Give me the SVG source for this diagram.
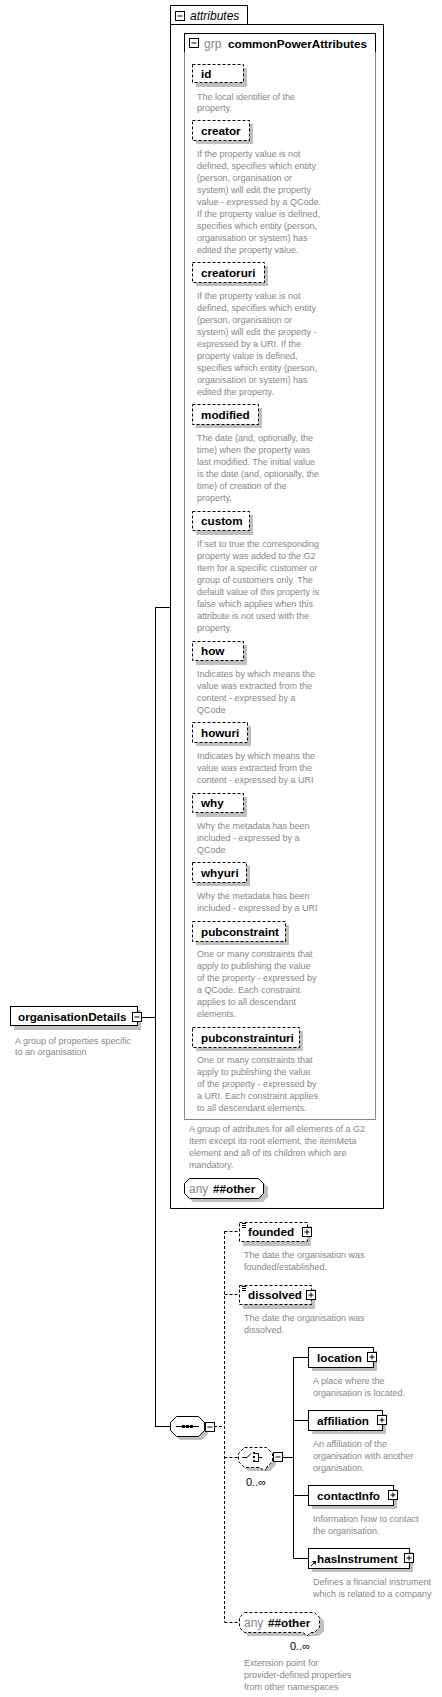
<svg xmlns="http://www.w3.org/2000/svg" width="442" height="1697" viewBox="0 0 442 1697">
<style>
.bg{fill:#fff}
.box{fill:#fff;stroke:#000;stroke-width:1}
.dbox{fill:#fff;stroke:#000;stroke-width:1;stroke-dasharray:3,2}
.sh{fill:#c0c0c0}
.lbl{font-family:"Liberation Sans",Arial,sans-serif;font-size:11.7px;font-weight:bold;fill:#000}
.desc{font-family:"Liberation Sans",Arial,sans-serif;font-size:9px;fill:#888}
.gr{font-family:"Liberation Sans",Arial,sans-serif;font-size:12px;fill:#888}
.occ{font-family:"Liberation Sans",Arial,sans-serif;font-size:11px;fill:#000}
.ital{font-family:"Liberation Sans",Arial,sans-serif;font-size:12px;font-style:italic;fill:#000}
.ln{stroke:#000;stroke-width:1;fill:none}
.dl{stroke:#000;stroke-width:1;fill:none;stroke-dasharray:3,2}
.ic{fill:#fff;stroke:#000;stroke-width:1}
</style>
<defs>
<g id="minus"><rect class="ic" x="0.5" y="0.5" width="9" height="9"/><path class="ln" d="M2.5,5H7.5"/></g>
<g id="plus"><rect class="ic" x="0.5" y="0.5" width="9" height="9"/><path class="ln" d="M2.5,5H7.5M5,2.5V7.5"/></g>
</defs>
<rect class="bg" x="0" y="0" width="442" height="1697"/>

<g id="connectors">
<path class="ln" d="M142,1017.5H155.5M155.5,607V1427M155.5,607.5H170M155.5,1426.5H170"/>
<path class="dl" d="M214,1426.5H224.5M224.5,1231V1622M224.5,1231.5H239M224.5,1294.5H239M224.5,1457.5H238M224.5,1622.5H239"/>
<path class="ln" d="M283,1457.5H293.5M293.5,1357V1558M293.5,1357.5H308M293.5,1420.5H308M293.5,1495.5H308M293.5,1558.5H308"/>
</g>

<g id="attributes">
<path class="ln" d="M170.5,24.5V1208.5H383.5V24.5H247.5V5.5H170.5V24.5H247.5"/>
<use href="#minus" x="175" y="11"/>
<text class="ital" x="190" y="20">attributes</text>
</g>

<g id="commonPowerAttributes">
<rect x="184.5" y="33.5" width="191" height="1086" fill="#fff" stroke="#888"/>
<path class="ln" d="M184.5,52V33.5H375.5V52"/>
<use href="#minus" x="189" y="38"/>
<text class="gr" x="204" y="48">grp</text>
<text class="lbl" x="228" y="48">commonPowerAttributes</text>
<text class="desc" x="189" y="1132">A group of attributes for all elements of a G2</text>
<text class="desc" x="189" y="1144">Item except its root element, the itemMeta</text>
<text class="desc" x="189" y="1156">element and all of its children which are</text>
<text class="desc" x="189" y="1168">mandatory.</text>
</g>

<g id="attr-id">
<rect class="sh" x="196" y="68" width="51" height="19"/>
<rect class="dbox" x="192.5" y="64.5" width="51" height="18"/>
<text class="lbl" x="201" y="78">id</text>
<text class="desc" x="197" y="100">The local identifier of the</text>
<text class="desc" x="197" y="111">property.</text>
</g>

<g id="attr-creator">
<rect class="sh" x="196" y="124" width="57" height="20"/>
<rect class="dbox" x="192.5" y="120.5" width="57" height="20"/>
<text class="lbl" x="201" y="135">creator</text>
<text class="desc" x="197" y="157">If the property value is not</text>
<text class="desc" x="197" y="169">defined, specifies which entity</text>
<text class="desc" x="197" y="181">(person, organisation or</text>
<text class="desc" x="197" y="193">system) will edit the property</text>
<text class="desc" x="197" y="205">value - expressed by a QCode.</text>
<text class="desc" x="197" y="217">If the property value is defined,</text>
<text class="desc" x="197" y="229">specifies which entity (person,</text>
<text class="desc" x="197" y="241">organisation or system) has</text>
<text class="desc" x="197" y="253">edited the property value.</text>
</g>

<g id="attr-creatoruri">
<rect class="sh" x="196" y="266" width="72" height="20"/>
<rect class="dbox" x="192.5" y="262.5" width="72" height="20"/>
<text class="lbl" x="201" y="277">creatoruri</text>
<text class="desc" x="197" y="299">If the property value is not</text>
<text class="desc" x="197" y="311">defined, specifies which entity</text>
<text class="desc" x="197" y="323">(person, organisation or</text>
<text class="desc" x="197" y="335">system) will edit the property -</text>
<text class="desc" x="197" y="347">expressed by a URI. If the</text>
<text class="desc" x="197" y="359">property value is defined,</text>
<text class="desc" x="197" y="371">specifies which entity (person,</text>
<text class="desc" x="197" y="383">organisation or system) has</text>
<text class="desc" x="197" y="395">edited the property.</text>
</g>

<g id="attr-modified">
<rect class="sh" x="196" y="408" width="66" height="20"/>
<rect class="dbox" x="192.5" y="404.5" width="66" height="20"/>
<text class="lbl" x="201" y="419">modified</text>
<text class="desc" x="197" y="441">The date (and, optionally, the</text>
<text class="desc" x="197" y="453">time) when the property was</text>
<text class="desc" x="197" y="465">last modified. The initial value</text>
<text class="desc" x="197" y="477">is the date (and, optionally, the</text>
<text class="desc" x="197" y="489">time) of creation of the</text>
<text class="desc" x="197" y="501">property.</text>
</g>

<g id="attr-custom">
<rect class="sh" x="196" y="515" width="57" height="20"/>
<rect class="dbox" x="192.5" y="511.5" width="57" height="19"/>
<text class="lbl" x="201" y="525">custom</text>
<text class="desc" x="197" y="547">If set to true the corresponding</text>
<text class="desc" x="197" y="559">property was added to the G2</text>
<text class="desc" x="197" y="571">Item for a specific customer or</text>
<text class="desc" x="197" y="583">group of customers only. The</text>
<text class="desc" x="197" y="595">default value of this property is</text>
<text class="desc" x="197" y="607">false which applies when this</text>
<text class="desc" x="197" y="619">attribute is not used with the</text>
<text class="desc" x="197" y="631">property.</text>
</g>

<g id="attr-how">
<rect class="sh" x="196" y="645" width="51" height="20"/>
<rect class="dbox" x="192.5" y="641.5" width="51" height="19"/>
<text class="lbl" x="201" y="655">how</text>
<text class="desc" x="197" y="677">Indicates by which means the</text>
<text class="desc" x="197" y="689">value was extracted from the</text>
<text class="desc" x="197" y="701">content - expressed by a</text>
<text class="desc" x="197" y="713">QCode</text>
</g>

<g id="attr-howuri">
<rect class="sh" x="196" y="726" width="55" height="20"/>
<rect class="dbox" x="192.5" y="722.5" width="55" height="20"/>
<text class="lbl" x="201" y="737">howuri</text>
<text class="desc" x="197" y="759">Indicates by which means the</text>
<text class="desc" x="197" y="771">value was extracted from the</text>
<text class="desc" x="197" y="783">content - expressed by a URI</text>
</g>

<g id="attr-why">
<rect class="sh" x="196" y="797" width="51" height="20"/>
<rect class="dbox" x="192.5" y="793.5" width="51" height="19"/>
<text class="lbl" x="201" y="807">why</text>
<text class="desc" x="197" y="829">Why the metadata has been</text>
<text class="desc" x="197" y="841">included - expressed by a</text>
<text class="desc" x="197" y="853">QCode</text>
</g>

<g id="attr-whyuri">
<rect class="sh" x="196" y="866" width="54" height="20"/>
<rect class="dbox" x="192.5" y="862.5" width="54" height="20"/>
<text class="lbl" x="201" y="877">whyuri</text>
<text class="desc" x="197" y="899">Why the metadata has been</text>
<text class="desc" x="197" y="911">included - expressed by a URI</text>
</g>

<g id="attr-pubconstraint">
<rect class="sh" x="196" y="925" width="93" height="20"/>
<rect class="dbox" x="192.5" y="921.5" width="93" height="20"/>
<text class="lbl" x="201" y="936">pubconstraint</text>
<text class="desc" x="197" y="957">One or many constraints that</text>
<text class="desc" x="197" y="969">apply to publishing the value</text>
<text class="desc" x="197" y="981">of the property - expressed by</text>
<text class="desc" x="197" y="993">a QCode. Each constraint</text>
<text class="desc" x="197" y="1005">applies to all descendant</text>
<text class="desc" x="197" y="1017">elements.</text>
</g>

<g id="attr-pubconstrainturi">
<rect class="sh" x="196" y="1031" width="107" height="20"/>
<rect class="dbox" x="192.5" y="1027.5" width="107" height="20"/>
<text class="lbl" x="201" y="1042">pubconstrainturi</text>
<text class="desc" x="197" y="1063">One or many constraints that</text>
<text class="desc" x="197" y="1075">apply to publishing the value</text>
<text class="desc" x="197" y="1087">of the property - expressed by</text>
<text class="desc" x="197" y="1099">a URI. Each constraint applies</text>
<text class="desc" x="197" y="1111">to all descendant elements.</text>
</g>

<g id="anyAttribute">
<path class="sh" d="M193,1182H263L268,1187V1197L263,1202H193L188,1197V1187Z"/>
<path class="box" d="M189.5,1178.5H258.5L263.5,1183.5V1193.5L258.5,1198.5H189.5L184.5,1193.5V1183.5Z"/>
<text class="gr" x="189" y="1193">any</text>
<text class="lbl" x="213" y="1193">##other</text>
</g>

<g id="organisationDetails">
<rect class="sh" x="14" y="1010" width="127" height="20"/>
<rect class="box" x="10.5" y="1006.5" width="127" height="19"/>
<text class="lbl" x="18" y="1021">organisationDetails</text>
<use href="#minus" x="132" y="1012"/>
<text class="desc" x="15" y="1044">A group of properties specific</text>
<text class="desc" x="15" y="1055">to an organisation</text>
</g>

<g id="sequence">
<path class="sh" d="M180,1420H202L208,1426V1434L202,1440H180L174,1434V1426Z"/>
<path class="box" d="M176.5,1416.5H198.5L204.5,1422.5V1430.5L198.5,1436.5H176.5L170.5,1430.5V1422.5Z"/>
<path class="ln" d="M176,1426.5H199"/>
<rect x="182" y="1425" width="3" height="3" fill="#000"/>
<rect x="186" y="1425" width="3" height="3" fill="#000"/>
<rect x="190" y="1425" width="3" height="3" fill="#000"/>
<use href="#minus" x="205" y="1422"/>
</g>

<g id="founded">
<rect class="sh" x="243" y="1226" width="68" height="20"/>
<rect class="dbox" x="239.5" y="1222.5" width="68" height="19"/>
<path class="ln" d="M242,1223.5H246M242,1225.5H246M242,1227.5H246"/>
<text class="lbl" x="248" y="1236">founded</text>
<use href="#plus" x="302" y="1227"/>
<text class="desc" x="244" y="1258">The date the organisation was</text>
<text class="desc" x="244" y="1270">founded/established.</text>
</g>

<g id="dissolved">
<rect class="sh" x="243" y="1289" width="72" height="20"/>
<rect class="dbox" x="239.5" y="1285.5" width="72" height="19"/>
<path class="ln" d="M242,1286.5H246M242,1288.5H246M242,1290.5H246"/>
<text class="lbl" x="248" y="1299">dissolved</text>
<use href="#plus" x="306" y="1290"/>
<text class="desc" x="244" y="1321">The date the organisation was</text>
<text class="desc" x="244" y="1333">dissolved.</text>
</g>

<g id="choice">
<path class="sh" d="M248,1451H270L276,1457V1465L270,1471H248L242,1465V1457Z"/>
<path class="dbox" d="M244.5,1447.5H266.5L272.5,1453.5V1461.5L266.5,1467.5H268L264,1471L260,1467.5H244.5L238.5,1461.5V1453.5Z"/>
<path class="ln" d="M242,1457.5H247L251,1453.5"/>
<rect x="253" y="1452" width="2" height="2" fill="#000"/>
<rect x="253" y="1456" width="2" height="2" fill="#000"/>
<rect x="253" y="1460" width="2" height="2" fill="#000"/>
<path class="ln" d="M255,1453.5H258.5V1461.5H255M258.5,1457.5H262"/>
<use href="#minus" x="273" y="1452"/>
<text class="occ" x="246" y="1486">0..∞</text>
</g>

<g id="location">
<rect class="sh" x="312" y="1351" width="65" height="20"/>
<rect class="box" x="308.5" y="1347.5" width="65" height="20"/>
<text class="lbl" x="317" y="1362">location</text>
<use href="#plus" x="367" y="1352"/>
<text class="desc" x="313" y="1384">A place where the</text>
<text class="desc" x="313" y="1396">organisation is located.</text>
</g>

<g id="affiliation">
<rect class="sh" x="312" y="1414" width="74" height="20"/>
<rect class="box" x="308.5" y="1410.5" width="74" height="20"/>
<text class="lbl" x="317" y="1425">affiliation</text>
<use href="#plus" x="377" y="1415"/>
<text class="desc" x="313" y="1447">An affiliation of the</text>
<text class="desc" x="313" y="1459">organisation with another</text>
<text class="desc" x="313" y="1471">organisation.</text>
</g>

<g id="contactInfo">
<rect class="sh" x="312" y="1489" width="85" height="20"/>
<rect class="box" x="308.5" y="1485.5" width="85" height="20"/>
<text class="lbl" x="317" y="1500">contactInfo</text>
<use href="#plus" x="388" y="1490"/>
<text class="desc" x="313" y="1522">Information how to contact</text>
<text class="desc" x="313" y="1534">the organisation.</text>
</g>

<g id="hasInstrument">
<rect class="sh" x="312" y="1552" width="101" height="20"/>
<rect class="box" x="308.5" y="1548.5" width="101" height="20"/>
<path class="ln" d="M311,1566L315,1562"/>
<path d="M312,1561H316V1565Z" fill="#000"/>
<text class="lbl" x="317" y="1563">hasInstrument</text>
<use href="#plus" x="404" y="1553"/>
<text class="desc" x="313" y="1585">Defines a financial instrument</text>
<text class="desc" x="313" y="1597">which is related to a company</text>
</g>

<g id="anyElement">
<path class="sh" d="M248,1616H319L324,1621V1631L319,1636H248L243,1631V1621Z"/>
<path class="dbox" d="M244.5,1612.5H314.5L319.5,1617.5V1627.5L314.5,1632.5H311L307,1636L303,1632.5H244.5L239.5,1627.5V1617.5Z"/>
<text class="gr" x="244" y="1627">any</text>
<text class="lbl" x="268" y="1627">##other</text>
<text class="occ" x="290" y="1650">0..∞</text>
<text class="desc" x="244" y="1666">Extension point for</text>
<text class="desc" x="244" y="1678">provider-defined properties</text>
<text class="desc" x="244" y="1690">from other namespaces</text>
</g>
</svg>
